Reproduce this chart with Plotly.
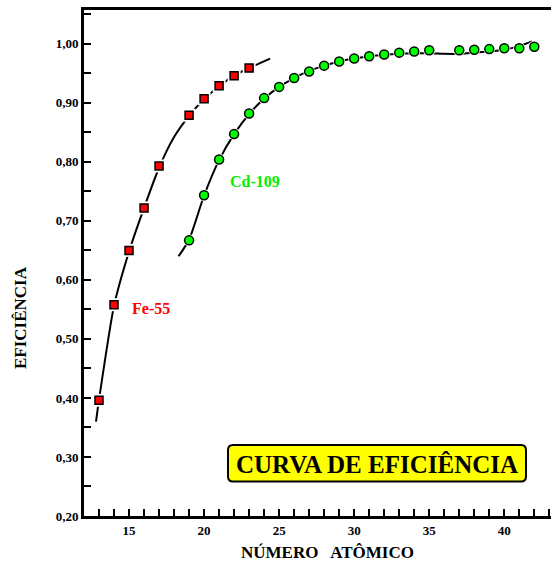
import plotly.graph_objects as go

# ---- data ----
fe_z = [13, 14, 15, 16, 17, 19, 20, 21, 22, 23]
fe_eff = [0.396, 0.558, 0.650, 0.722, 0.793, 0.879, 0.907, 0.929, 0.946, 0.959]

cd_z = [19, 20, 21, 22, 23, 24, 25, 26, 27, 28, 29, 30, 31, 32, 33, 34, 35,
        37, 38, 39, 40, 41, 42]
cd_eff = [0.667, 0.7435, 0.804, 0.847, 0.882, 0.908, 0.927, 0.942, 0.953, 0.963,
          0.970, 0.975, 0.979, 0.982, 0.985, 0.987, 0.989,
          0.989, 0.990, 0.991, 0.9925, 0.9925, 0.995]

# fitted curves
fe_fit_z = [12.8, 13, 14, 15, 16, 17, 18, 19, 20, 21, 22, 23, 24.4]
fe_fit_eff = [0.360, 0.397, 0.556, 0.648, 0.722, 0.790, 0.842, 0.878, 0.906,
              0.928, 0.946, 0.959, 0.975]

cd_fit_z = [18.3, 19, 20, 21, 22, 23, 24, 25, 26, 27, 28, 29, 30, 31, 32, 33,
            34, 35, 36, 37, 38, 39, 40, 41, 41.85]
cd_fit_eff = [0.640, 0.668, 0.743, 0.803, 0.847, 0.881, 0.907, 0.927, 0.942,
              0.954, 0.963, 0.970, 0.975, 0.979, 0.981, 0.983, 0.984, 0.984,
              0.983, 0.983, 0.985, 0.987, 0.990, 0.996, 1.004]

x_ticks = [15, 20, 25, 30, 35, 40]
y_ticks = [0.2, 0.3, 0.4, 0.5, 0.6, 0.7, 0.8, 0.9, 1.0]

SERIF = "Liberation Serif, Times New Roman, serif"

fig = go.Figure()

# fitted lines
fig.add_trace(go.Scatter(x=fe_fit_z, y=fe_fit_eff, mode="lines",
                         line=dict(color="black", width=2, shape="spline", smoothing=0.6),
                         hoverinfo="skip", showlegend=False))
fig.add_trace(go.Scatter(x=cd_fit_z, y=cd_fit_eff, mode="lines",
                         line=dict(color="black", width=2, shape="spline", smoothing=0.6),
                         hoverinfo="skip", showlegend=False))

# white halos breaking the line around markers
fig.add_trace(go.Scatter(x=fe_z, y=fe_eff, mode="markers",
                         marker=dict(symbol="square", size=13, color="white"),
                         hoverinfo="skip", showlegend=False))
fig.add_trace(go.Scatter(x=cd_z, y=cd_eff, mode="markers",
                         marker=dict(symbol="circle", size=12, color="white"),
                         hoverinfo="skip", showlegend=False))

# data markers
fig.add_trace(go.Scatter(x=fe_z, y=fe_eff, mode="markers", name="Fe-55",
                         marker=dict(symbol="square", size=8, color="#ff0000",
                                     line=dict(color="black", width=1.5)),
                         showlegend=False))
fig.add_trace(go.Scatter(x=cd_z, y=cd_eff, mode="markers", name="Cd-109",
                         marker=dict(symbol="circle", size=9, color="#00ff00",
                                     line=dict(color="black", width=1.5)),
                         showlegend=False))

L, T, W, H = 84, 10, 551, 563
B = 47
pw, ph = W - L, H - T - B

def px(x):
    return (x - L) / pw

def py(y):
    return (H - B - y) / ph

# rounded yellow box
x0, x1, y0, y1 = px(228), px(526), py(481.5), py(445)
rx, ry = 5 / pw, 5 / ph
path = (f"M {x0+rx},{y0} L {x1-rx},{y0} Q {x1},{y0} {x1},{y0+ry} "
        f"L {x1},{y1-ry} Q {x1},{y1} {x1-rx},{y1} L {x0+rx},{y1} "
        f"Q {x0},{y1} {x0},{y1-ry} L {x0},{y0+ry} Q {x0},{y0} {x0+rx},{y0} Z")
fig.add_shape(type="path", path=path, xref="paper", yref="paper",
              fillcolor="#ffff00", line=dict(color="black", width=2))

annotations = [
    dict(text="<b>CURVA DE EFICIÊNCIA</b>", x=px(377), y=py(464), xref="paper", yref="paper",
         showarrow=False, xanchor="center", yanchor="middle",
         font=dict(family=SERIF, size=25, color="black")),
    dict(text="<b>Fe-55</b>", x=15.06, y=0.551, xref="x", yref="y",
         showarrow=False, xanchor="left", yanchor="middle",
         font=dict(family=SERIF, size=16, color="#ff0000")),
    dict(text="<b>Cd-109</b>", x=21.57, y=0.766, xref="x", yref="y",
         showarrow=False, xanchor="left", yanchor="middle",
         font=dict(family=SERIF, size=16, color="#00ee00")),
    dict(text="<b>NÚMERO&nbsp;&nbsp; ATÔMICO</b>", x=px(327), y=py(552), xref="paper", yref="paper",
         showarrow=False, xanchor="center", yanchor="middle",
         font=dict(family=SERIF, size=17, color="black")),
    dict(text="<b>EFICIÊNCIA</b>", x=px(20), y=py(318), xref="paper", yref="paper",
         showarrow=False, xanchor="center", yanchor="middle", textangle=-90,
         font=dict(family=SERIF, size=17, color="black")),
]

fig.update_layout(
    width=W, height=H,
    margin=dict(l=L, r=0, t=T, b=B, pad=0),
    paper_bgcolor="white", plot_bgcolor="white",
    separators=",.",
    annotations=annotations,
    xaxis=dict(range=[12, 12 + pw / 15.01], showgrid=False, zeroline=False,
               showline=True, linecolor="black", linewidth=3, mirror=True,
               tickmode="array", tickvals=x_ticks,
               ticks="inside", ticklen=7, tickwidth=2, tickcolor="black",
               minor=dict(dtick=1, tick0=0, ticks="inside", ticklen=7, tickwidth=2,
                          tickcolor="black", showgrid=False),
               tickfont=dict(family=SERIF, size=13, color="black", weight="bold")),
    yaxis=dict(range=[0.2, 0.2 + ph / 590.25], showgrid=False, zeroline=False,
               showline=True, linecolor="black", linewidth=3, mirror=False,
               tickmode="array", tickvals=y_ticks, tickformat=".2f",
               ticks="inside", ticklen=7, tickwidth=2, tickcolor="black",
               minor=dict(dtick=0.05, tick0=0, ticks="inside", ticklen=7, tickwidth=2,
                          tickcolor="black", showgrid=False),
               tickfont=dict(family=SERIF, size=13, color="black", weight="bold")),
)

fig.write_html("out.html")
